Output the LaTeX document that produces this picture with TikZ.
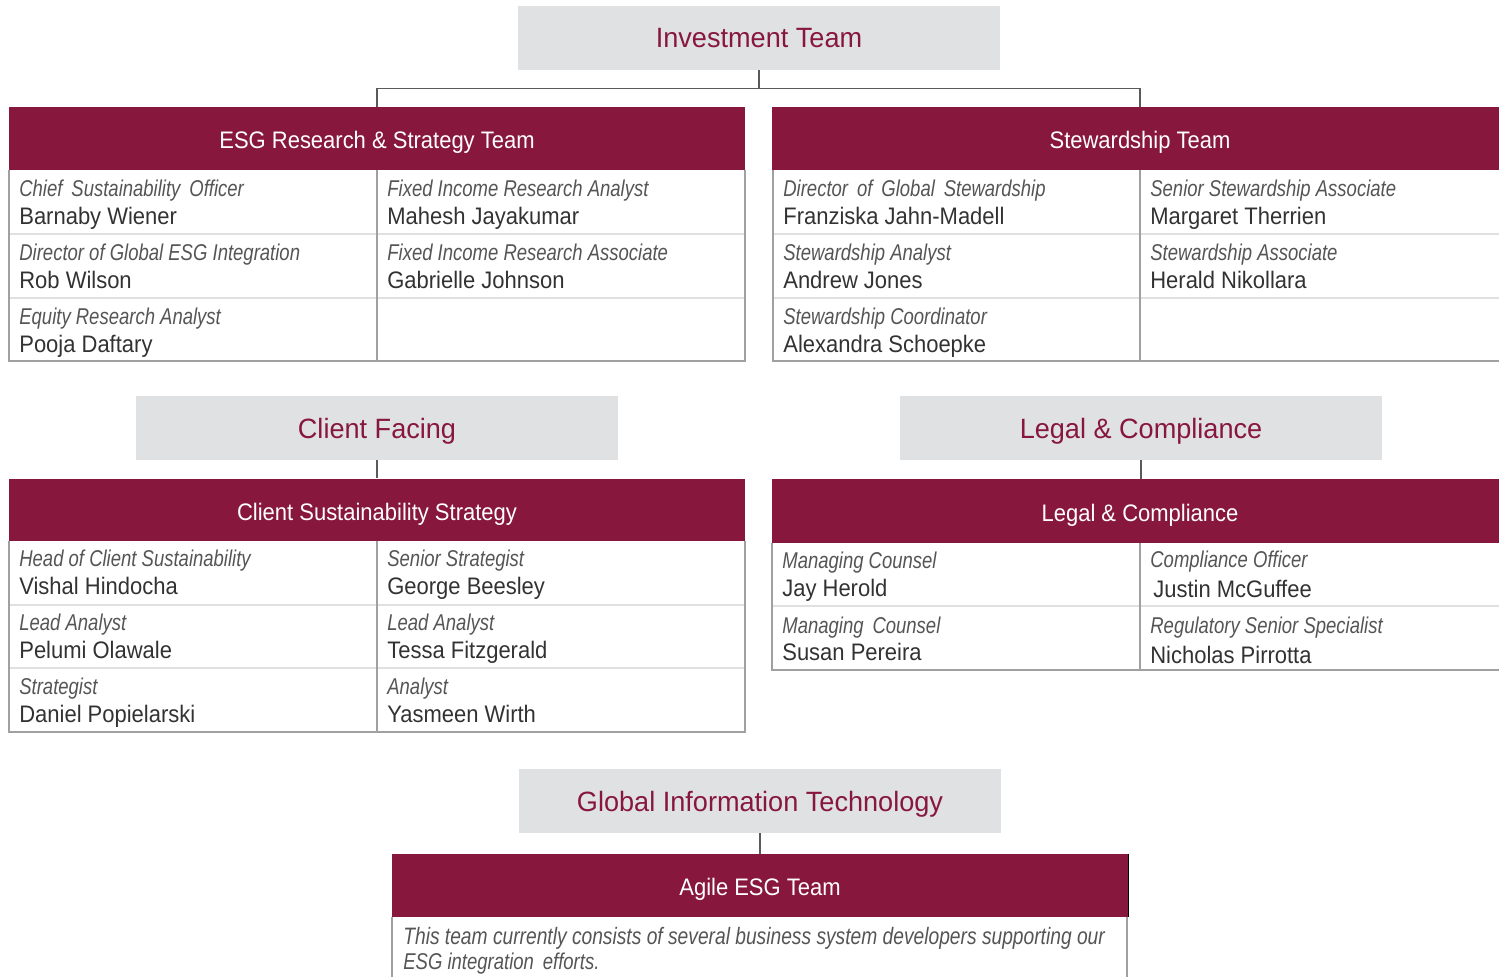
\documentclass[tikz,border=0pt]{standalone}
\usepackage{fontspec}
\setmainfont{Liberation Sans}
\newfontfamily\titlefont[FakeStretch=0.97]{Liberation Sans}
\newfontfamily\headfont[FakeStretch=0.92]{Liberation Sans}
\newfontfamily\rolefont[FakeStretch=0.81]{Liberation Sans}
\newfontfamily\namefont[FakeStretch=0.92]{Liberation Sans}
\definecolor{wine}{RGB}{136,23,62}
\definecolor{boxgrey}{RGB}{224,225,227}
\definecolor{rulegrey}{RGB}{160,160,160}
\definecolor{rowgrey}{RGB}{224,224,224}
\definecolor{rolegrey}{RGB}{85,85,85}
\definecolor{namegrey}{RGB}{50,50,50}
\definecolor{linkgrey}{RGB}{90,90,90}
\tikzset{
  greybox/.style={fill=boxgrey, text=wine, inner sep=0pt,
    minimum width=9.64cm, minimum height=1.28cm,
    text height=0.4cm, text depth=0pt,
    font=\titlefont\fontsize{15.9}{18}\selectfont},
  teamhead/.style={fill=wine, text=white, inner sep=0pt,
    minimum width=14.72cm, minimum height=1.26cm,
    text height=0.4cm, text depth=0pt,
    font=\headfont\fontsize{13.6}{16}\selectfont},
  staffrole/.style={anchor=base west, inner sep=0pt, text=rolegrey,
    font=\rolefont\itshape\fontsize{13}{15}\selectfont},
  staffname/.style={anchor=base west, inner sep=0pt, text=namegrey,
    font=\namefont\fontsize{13.6}{16}\selectfont},
  link/.style={draw=linkgrey, line width=0.6pt},
  rowrule/.style={draw=rowgrey, line width=1.2pt},
  colrule/.style={draw=rulegrey, line width=0.6pt},
  frame/.style={draw=rulegrey, line width=0.8pt}
}
\begin{document}
\begin{tikzpicture}[x=0.02cm, y=-0.02cm]
  \useasboundingbox (0,0) rectangle (1499,977);
  \clip (0,0) rectangle (1499,977);

  % group boxes
  \node[greybox] (invest) at (759,38) {Investment Team};
  \node[greybox] (client) at (377,428) {Client Facing};
  \node[greybox] (legal) at (1141,428) {Legal \& Compliance};
  \node[greybox] (git) at (760,801) {Global Information Technology};

  % team headers
  \node[teamhead] (esgHead) at (377,138.5) {ESG Research \& Strategy Team};
  \node[teamhead] (stewHead) at (1140,138.5) {Stewardship Team};
  \node[teamhead] (csHead) at (377,510) {Client Sustainability Strategy};
  \node[teamhead, minimum height=1.28cm] (lcHead) at (1140,511) {Legal \& Compliance};
  \node[teamhead] (agileHead) at (760,885.5) {Agile ESG Team};
  \draw[black, line width=0.6pt] (agileHead.north east) -- (agileHead.south east);

  % connectors
  \draw[link] (invest.south) -- ++(0,18) -| (esgHead.north);
  \draw[link] (invest.south) -- ++(0,18) -| (stewHead.north);
  \draw[link] (client.south) -- (csHead.north);
  \draw[link] (legal.south) -- (legal.south |- lcHead.north);
  \draw[link] (git.south) -- (agileHead.north);

  % table rules
  \draw[rowrule] (9,234) -- (745,234) (9,298) -- (745,298);
  \draw[colrule] (377,170) -- (377,361);
  \draw[frame] (9,170) -- (9,361) -- (745,361) -- (745,170);
  \draw[rowrule] (773,234) -- (1507,234) (773,298) -- (1507,298);
  \draw[colrule] (1140,170) -- (1140,361);
  \draw[frame] (773,170) -- (773,361) -- (1507,361) -- (1507,170);
  \draw[rowrule] (9,605) -- (745,605) (9,668) -- (745,668);
  \draw[colrule] (377,541) -- (377,732);
  \draw[frame] (9,541) -- (9,732) -- (745,732) -- (745,541);
  \draw[rowrule] (772,606) -- (1508,606);
  \draw[colrule] (1140,543) -- (1140,670);
  \draw[frame] (772,543) -- (772,670) -- (1508,670) -- (1508,543);
  \draw[frame] (392,917) -- (392,990) (1127,917) -- (1127,990);

  % ESG Research & Strategy Team
  \node[staffrole] (esgR1) at (19,196) {Chief\, Sustainability\, Officer};
  \node[staffname] (esgN1) at (19,224) {Barnaby Wiener};
  \node[staffrole] (esgR2) at (387,196) {Fixed Income Research Analyst};
  \node[staffname] (esgN2) at (387,224) {Mahesh Jayakumar};
  \node[staffrole] (esgR3) at (19,260) {Director of Global ESG Integration};
  \node[staffname] (esgN3) at (19,288) {Rob Wilson};
  \node[staffrole] (esgR4) at (387,260) {Fixed Income Research Associate};
  \node[staffname] (esgN4) at (387,288) {Gabrielle Johnson};
  \node[staffrole] (esgR5) at (19,324) {Equity Research Analyst};
  \node[staffname] (esgN5) at (19,352) {Pooja Daftary};

  % Stewardship Team
  \node[staffrole] (stewR1) at (783,196) {Director\, of\, Global\, Stewardship};
  \node[staffname] (stewN1) at (783,224) {Franziska Jahn-Madell};
  \node[staffrole] (stewR2) at (1150,196) {Senior Stewardship Associate};
  \node[staffname] (stewN2) at (1150,224) {Margaret Therrien};
  \node[staffrole] (stewR3) at (783,260) {Stewardship Analyst};
  \node[staffname] (stewN3) at (783,288) {Andrew Jones};
  \node[staffrole] (stewR4) at (1150,260) {Stewardship Associate};
  \node[staffname] (stewN4) at (1150,288) {Herald Nikollara};
  \node[staffrole] (stewR5) at (783,324) {Stewardship Coordinator};
  \node[staffname] (stewN5) at (783,352) {Alexandra Schoepke};

  % Client Sustainability Strategy
  \node[staffrole] (csR1) at (19,566) {Head of Client Sustainability};
  \node[staffname] (csN1) at (19,594) {Vishal Hindocha};
  \node[staffrole] (csR2) at (387,566) {Senior Strategist};
  \node[staffname] (csN2) at (387,594) {George Beesley};
  \node[staffrole] (csR3) at (19,630) {Lead Analyst};
  \node[staffname] (csN3) at (19,658) {Pelumi Olawale};
  \node[staffrole] (csR4) at (387,630) {Lead Analyst};
  \node[staffname] (csN4) at (387,658) {Tessa Fitzgerald};
  \node[staffrole] (csR5) at (19,694) {Strategist};
  \node[staffname] (csN5) at (19,722) {Daniel Popielarski};
  \node[staffrole] (csR6) at (387,694) {Analyst};
  \node[staffname] (csN6) at (387,722) {Yasmeen Wirth};

  % Legal & Compliance
  \node[staffrole] (lcR1) at (782,568) {Managing Counsel};
  \node[staffname] (lcN1) at (782,596) {Jay Herold};
  \node[staffrole] (lcR2) at (1150,567) {Compliance Officer};
  \node[staffname] (lcN2) at (1153,597) {Justin McGuffee};
  \node[staffrole] (lcR3) at (782,633) {Managing\, Counsel};
  \node[staffname] (lcN3) at (782,660) {Susan Pereira};
  \node[staffrole] (lcR4) at (1150,633) {Regulatory Senior Specialist};
  \node[staffname] (lcN4) at (1150,663) {Nicholas Pirrotta};

  % Agile ESG Team
  \node[staffrole, font=\rolefont\itshape\fontsize{13.5}{15}\selectfont] (agileL1) at (403,944)
    {This team currently consists of several business system developers supporting our};
  \node[staffrole] (agileL2) at (403,969) {ESG integration\, efforts.};
\end{tikzpicture}
\end{document}
